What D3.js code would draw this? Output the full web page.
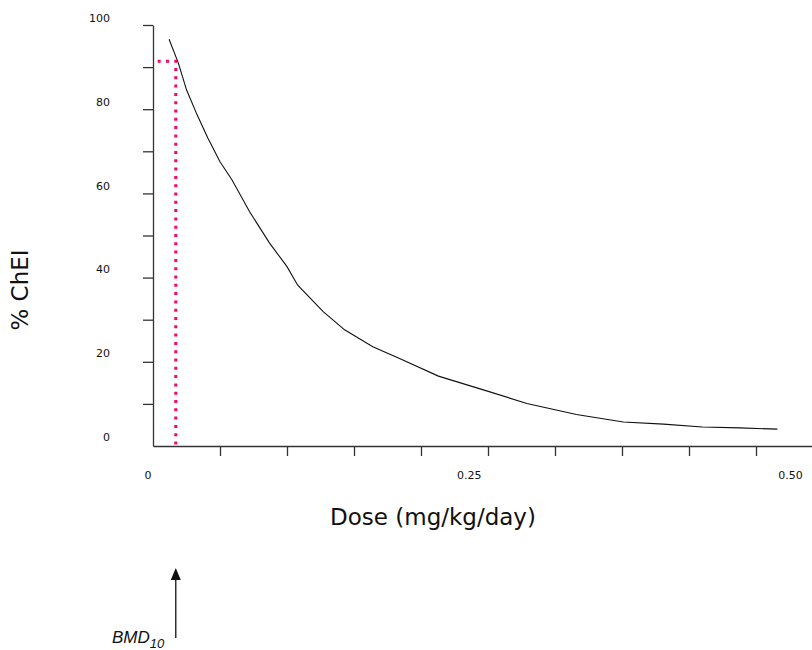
<!DOCTYPE html>
<html lang="en">

<head>
  <meta charset="UTF-8">
  <title>% ChEI vs Dose</title>
  <style>
    body { margin: 0; background: #fff; }
  </style>
</head>

<body>
  <svg id="svg" width="812" height="650"></svg>

  <script src="https://d3js.org/d3.v7.min.js"></script>
  <script>
    // dose-response curve
    const doses = [0.012, 0.019, 0.025, 0.033, 0.041, 0.050, 0.059, 0.072, 0.087, 0.100,
      0.108, 0.127, 0.143, 0.164, 0.184, 0.213, 0.249, 0.279, 0.316, 0.351, 0.381, 0.410, 0.438, 0.466]
    const chei = [96.6, 90.9, 84.6, 78.6, 73.1, 67.5, 63.2, 55.7, 48.2, 42.6,
      38.2, 31.9, 27.6, 23.6, 20.8, 16.6, 13.1, 10.1, 7.5, 5.7, 5.2, 4.5, 4.3, 4.0]

    const bmd = 0.017
    const bmdResponse = 91.4

    const yTicks = [10, 20, 30, 40, 50, 60, 70, 80, 90, 100]
    const yTickLabels = [0, 20, 40, 60, 80, 100]
    const xTicks = [0.05, 0.10, 0.15, 0.20, 0.25, 0.30, 0.35, 0.40, 0.45]
    const xTickLabels = ['0', '0.25', '0.50']
    const xTickLabelValues = [0, 0.25, 0.5]

    const svg = d3.select('#svg')

    // scales
    const xScale = d3.scaleLinear()
      .domain([0, 0.5])
      .range([153, 823])

    const yScale = d3.scaleLinear()
      .domain([0, 100])
      .range([446, 25])

    // the tick labels sit a little off their ticks in the original
    const xLabelScale = d3.scaleLinear()
      .domain([0, 0.5])
      .range([147.5, 790])

    const yLabelScale = d3.scaleLinear()
      .domain([0, 100])
      .range([437, 18])

    // y axis
    const yAxis = svg.append('g')
      .attr('transform', 'translate(153,0)')
      .call(d3.axisLeft(yScale).tickValues(yTicks).tickFormat('').tickSize(10).tickSizeOuter(0))
    yAxis.selectAll('path, line').attr('stroke', '#333').attr('stroke-width', 1.3)

    svg.append('g')
      .attr('transform', 'translate(110,0)')
      .call(d3.axisLeft(yLabelScale).tickValues(yTickLabels).tickSize(0).tickPadding(0))
      .call(g => g.select('.domain').remove())
      .selectAll('text')
      .style('font-family', 'DejaVu Sans, Verdana, sans-serif')
      .style('font-size', '11px')
      .attr('fill', '#111')

    // x axis
    const xAxis = svg.append('g')
      .attr('transform', 'translate(0,446)')
      .call(d3.axisBottom(xScale).tickValues(xTicks).tickFormat('').tickSize(10).tickSizeOuter(0))
    xAxis.selectAll('path, line').attr('stroke', '#333').attr('stroke-width', 1.3)

    svg.append('g')
      .attr('transform', 'translate(0,471)')
      .call(d3.axisBottom(xLabelScale).tickValues(xTickLabelValues)
        .tickFormat((d, i) => xTickLabels[i]).tickSize(0).tickPadding(0))
      .call(g => g.select('.domain').remove())
      .selectAll('text')
      .style('font-family', 'DejaVu Sans, Verdana, sans-serif')
      .style('font-size', '11px')
      .attr('fill', '#111')

    // axis titles
    svg.append('text')
      .text('Dose (mg/kg/day)')
      .attr('x', 433)
      .attr('y', 525)
      .attr('text-anchor', 'middle')
      .style('font-family', 'DejaVu Sans, Verdana, sans-serif')
      .style('font-size', '23px')
      .attr('fill', '#111')

    svg.append('text')
      .text('% ChEI')
      .attr('transform', 'translate(28,290) rotate(-90)')
      .attr('text-anchor', 'middle')
      .style('font-family', 'DejaVu Sans, Verdana, sans-serif')
      .style('font-size', '23px')
      .attr('fill', '#111')

    // curve
    const line = d3.line()
      .x((d, i) => xScale(doses[i]))
      .y((d, i) => yScale(chei[i]))

    svg.append('path')
      .attr('d', line(doses))
      .attr('fill', 'none')
      .attr('stroke', '#111')
      .attr('stroke-width', 1.1)

    // BMD dotted guide lines
    svg.append('path')
      .attr('d', d3.line()([
        [xScale(0.0035), yScale(bmdResponse)],
        [xScale(bmd), yScale(bmdResponse)],
        [xScale(bmd), yScale(0)]
      ]))
      .attr('fill', 'none')
      .attr('stroke', '#ff0066')
      .attr('stroke-width', 3)
      .attr('stroke-dasharray', '3,5.3')

    // BMD arrow
    const ax = xScale(bmd)
    svg.append('line')
      .attr('x1', ax)
      .attr('x2', ax)
      .attr('y1', 638)
      .attr('y2', 578)
      .attr('stroke', '#111')
      .attr('stroke-width', 1.3)

    svg.append('path')
      .attr('d', d3.line()([[ax, 568], [ax - 5, 580], [ax + 5, 580]]) + 'Z')
      .attr('fill', '#111')

    const bmdLabel = svg.append('text')
      .attr('x', 112)
      .attr('y', 643)
      .style('font-family', 'Liberation Sans, Arial, sans-serif')
      .style('font-style', 'italic')
      .style('font-size', '17px')
      .attr('fill', '#111')
    bmdLabel.append('tspan').text('BMD')
    bmdLabel.append('tspan').text('10')
      .attr('dy', 5)
      .style('font-size', '13px')
  </script>

</body>

</html>
